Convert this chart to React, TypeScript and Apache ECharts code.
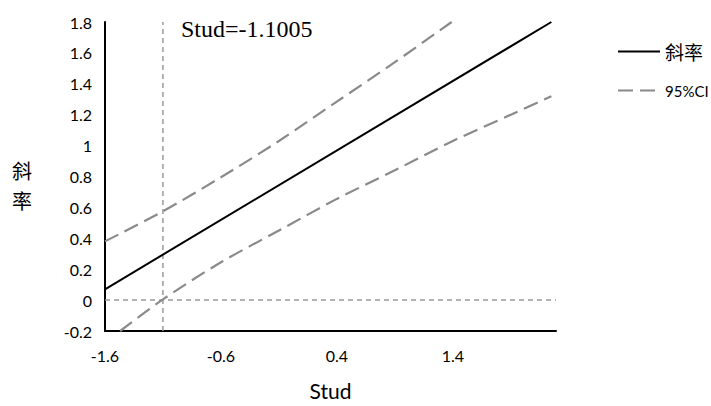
import React, { useEffect, useRef } from "react";
import * as echarts from "echarts";

const xSlope = [-1.6, 2.25];
const ySlope = [0.07, 1.8];
const xUpper = [-1.6, -1.1, -0.6, -0.1, 0.4, 0.9, 1.39];
const yUpper = [0.38, 0.575, 0.795, 1.03, 1.285, 1.54, 1.8];
const xLower = [-1.47, -1.1, -0.6, -0.1, 0.4, 0.9, 1.4, 1.9, 2.25];
const yLower = [-0.2, 0.005, 0.245, 0.45, 0.655, 0.84, 1.03, 1.2, 1.32];
const xTickLabels = [-1.6, -0.6, 0.4, 1.4];
const studValue = -1.1005;
const xRange = [-1.6, 2.29];
const yRange = [-0.2, 1.8];

const zip = (xs: number[], ys: number[]) => xs.map((x, i) => [x, ys[i]]);

export default function App() {
  const ref = useRef<HTMLDivElement>(null);
  useEffect(() => {
    if (!ref.current) return;
    const chart = echarts.init(ref.current, undefined, { renderer: "svg" });
    const tickFont = { fontFamily: "Lato", fontSize: 16, color: "#000" };
    const ciStyle = { color: "#8a8a8a", width: 2.2, type: [15, 7] as any };
    const refStyle = { color: "#999", width: 1.5, type: [5, 4] as any };
    const cjkName = {
      fontFamily: "Noto Sans CJK SC",
      fontSize: 20,
      lineHeight: 20,
      fill: "#000",
      align: "center",
      verticalAlign: "middle",
    };
    chart.setOption({
      animation: false,
      backgroundColor: "#fff",
      grid: { left: 105, right: 155, top: 22, bottom: 69, containLabel: false },
      legend: {
        orient: "vertical",
        left: 612,
        top: 37,
        itemWidth: 42,
        itemHeight: 14,
        itemGap: 22,
        itemStyle: { opacity: 0 },
        data: [
          { name: "斜率", textStyle: { fontFamily: "Noto Sans CJK SC", fontSize: 19 } },
          { name: "95%CI", textStyle: { fontFamily: "Lato", fontSize: 15 } },
        ],
        textStyle: { color: "#000" },
      },
      xAxis: {
        type: "value",
        min: xRange[0],
        max: xRange[1],
        axisLine: { show: true, onZero: false, lineStyle: { color: "#000", width: 2 } },
        axisTick: { show: false },
        splitLine: { show: false },
        axisLabel: { ...tickFont, margin: 16, customValues: xTickLabels },
        name: "Stud",
        nameLocation: "middle",
        nameGap: 49,
        nameTextStyle: { fontFamily: "Lato", fontSize: 21, color: "#000" },
      },
      yAxis: {
        type: "value",
        min: yRange[0],
        max: yRange[1],
        interval: 0.2,
        axisLine: { show: true, onZero: false, lineStyle: { color: "#000", width: 2 } },
        axisTick: { show: false },
        splitLine: { show: false },
        axisLabel: { ...tickFont, margin: 13 },
      },
      graphic: [
        {
          type: "text",
          left: 181,
          top: 17,
          style: { text: "Stud=-1.1005", fontFamily: "Liberation Serif", fontSize: 24, fill: "#000" },
        },
        { type: "text", x: 22, y: 170, style: { ...cjkName, text: "斜" } },
        { type: "text", x: 22, y: 200, style: { ...cjkName, text: "率" } },
      ],
      series: [
        {
          name: "refV",
          type: "line",
          data: [[studValue, yRange[0]], [studValue, yRange[1]]],
          symbol: "none",
          lineStyle: refStyle,
          silent: true,
          z: 1,
        },
        {
          name: "refH",
          type: "line",
          data: [[xRange[0], 0], [xRange[1], 0]],
          symbol: "none",
          lineStyle: refStyle,
          silent: true,
          z: 1,
        },
        {
          name: "95%CI",
          type: "line",
          data: zip(xUpper, yUpper),
          symbol: "none",
          smooth: 0.3,
          lineStyle: ciStyle,
          itemStyle: { color: "#8a8a8a" },
          z: 2,
        },
        {
          name: "95%CI",
          type: "line",
          data: zip(xLower, yLower),
          symbol: "none",
          smooth: 0.3,
          lineStyle: ciStyle,
          itemStyle: { color: "#8a8a8a" },
          z: 2,
        },
        {
          name: "斜率",
          type: "line",
          data: zip(xSlope, ySlope),
          symbol: "none",
          lineStyle: { color: "#000", width: 2 },
          itemStyle: { color: "#000" },
          z: 3,
        },
      ],
    });
    return () => chart.dispose();
  }, []);
  return <div ref={ref} style={{ width: 711, height: 406, position: "absolute", left: 0, top: 0 }} />;
}
